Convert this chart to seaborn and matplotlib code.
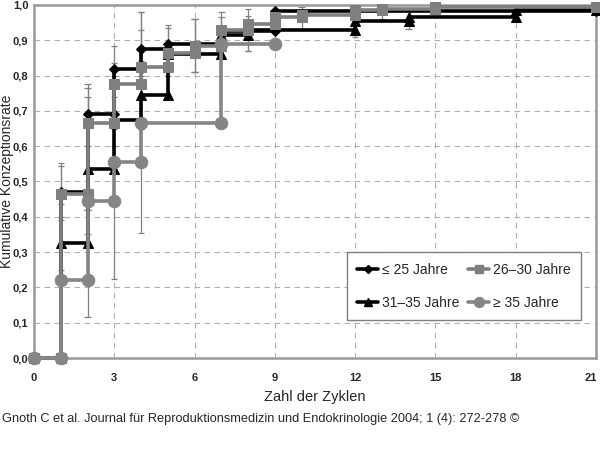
import matplotlib
matplotlib.use("Agg")
import matplotlib.pyplot as plt
import matplotlib.transforms as mtransforms
import seaborn as sns
import pandas as pd
from matplotlib.lines import Line2D

sns.set_style("white")
plt.rcParams['font.family'] = ['Liberation Sans', 'DejaVu Sans']

# ---- data (step curves: start time of each step and value) ----
labels = ["≤ 25 Jahre", "26–30 Jahre", "31–35 Jahre", "≥ 35 Jahre"]

t_le25 = [0, 1, 2, 3, 4, 5, 7, 9]
v_le25 = [0.0, 0.47, 0.69, 0.82, 0.875, 0.89, 0.925, 0.983]
end_le25 = 21

t_26_30 = [0, 1, 2, 3, 4, 5, 6, 7, 8, 9, 10, 12, 13, 15]
v_26_30 = [0.0, 0.465, 0.665, 0.775, 0.825, 0.865, 0.885, 0.93, 0.945, 0.965,
           0.972, 0.985, 0.988, 0.993]
end_26_30 = 21

t_31_35 = [0, 1, 2, 3, 4, 5, 7, 8, 12, 14, 18]
v_31_35 = [0.0, 0.325, 0.535, 0.675, 0.745, 0.86, 0.915, 0.929, 0.955, 0.967, 0.985]
end_31_35 = 21

t_ge35 = [0, 1, 2, 3, 4, 7]
v_ge35 = [0.0, 0.22, 0.445, 0.555, 0.667, 0.89]
end_ge35 = 9

# ---- confidence bars ----
ex_le25 = [1, 2, 3, 4, 6, 8]
lo_le25 = [0.39, 0.60, 0.74, 0.80, 0.81, 0.87]
hi_le25 = [0.552, 0.775, 0.885, 0.98, 0.96, 0.99]

ex_26_30 = [1, 2, 3, 4, 5, 7, 10, 13, 15]
lo_26_30 = [0.435, 0.42, 0.65, 0.65, 0.80, 0.85, 0.93, 0.96, 0.97]
hi_26_30 = [0.545, 0.765, 0.835, 0.93, 0.943, 0.98, 0.995, 0.995, 0.998]

ex_31_35 = [1, 2, 3, 4, 5, 6, 7, 8, 12, 14, 18]
lo_31_35 = [0.25, 0.42, 0.55, 0.65, 0.81, 0.81, 0.85, 0.87, 0.91, 0.932, 0.962]
hi_31_35 = [0.40, 0.74, 0.80, 0.84, 0.935, 0.96, 0.965, 0.97, 0.995, 0.99, 0.995]

ex_ge35 = [2, 3, 4]
lo_ge35 = [0.115, 0.225, 0.355]
hi_ge35 = [0.35, 0.60, 0.98]

x_ticks = [0, 3, 6, 9, 12, 15, 18, 21]
y_ticks = [0.0, 0.1, 0.2, 0.3, 0.4, 0.5, 0.6, 0.7, 0.8, 0.9, 1.0]


def step_frame(t, v, end):
    xs, ys = [t[0]], [v[0]]
    for i in range(1, len(t)):
        xs += [t[i], t[i]]
        ys += [v[i - 1], v[i]]
    xs.append(end)
    ys.append(v[-1])
    return pd.DataFrame({"x": xs, "y": ys})


series = [
    # label, t, v, end, color, marker, msize, ex, lo, hi, zorder
    (labels[2], t_31_35, v_31_35, end_31_35, "#000000", "^", 7, ex_31_35, lo_31_35, hi_31_35, 3),
    (labels[0], t_le25, v_le25, end_le25, "#000000", "D", 5.5, ex_le25, lo_le25, hi_le25, 4),
    (labels[1], t_26_30, v_26_30, end_26_30, "#7f7f7f", "s", 6.5, ex_26_30, lo_26_30, hi_26_30, 5),
    (labels[3], t_ge35, v_ge35, end_ge35, "#858585", "o", 9, ex_ge35, lo_ge35, hi_ge35, 6),
]

fig = plt.figure(figsize=(6.0, 4.65), dpi=100)
ax = fig.add_axes([34 / 600, 1 - 358 / 465, 562 / 600, 353 / 465])

# grid
for xv in x_ticks[1:-1]:
    ax.axvline(xv, color="#b0b0b0", lw=0.8, ls=(0, (5, 4)), zorder=0)
for yv in y_ticks[1:-1]:
    ax.axhline(yv, color="#b0b0b0", lw=0.8, ls=(0, (5, 4)), zorder=0)

# error bars
for lab, t, v, end, col, mk, ms, ex, lo, hi, z in series:
    ax.vlines(ex, lo, hi, color="#808080", lw=0.9, zorder=1)
    ax.hlines(lo, [e - 0.12 for e in ex], [e + 0.12 for e in ex], color="#808080", lw=0.9, zorder=1)
    ax.hlines(hi, [e - 0.12 for e in ex], [e + 0.12 for e in ex], color="#808080", lw=0.9, zorder=1)

handles = {}
for lab, t, v, end, col, mk, ms, ex, lo, hi, z in series:
    df = step_frame(t, v, end)
    sns.lineplot(data=df, x="x", y="y", sort=False, estimator=None, ax=ax,
                 color=col, lw=2.6, marker=mk, markersize=ms,
                 markeredgecolor=col, markerfacecolor=col, zorder=z,
                 legend=False, clip_on=False)
    handles[lab] = Line2D([], [], color=col, lw=2.6, marker=mk, markersize=ms * 0.8,
                          markeredgecolor=col, markerfacecolor=col)

ax.set_xlim(0, 21)
ax.set_ylim(0, 1.0)
ax.set_xticks(x_ticks)
ax.set_yticks(y_ticks)
ax.set_xticklabels([str(x) for x in x_ticks], fontsize=8, fontweight="bold")
ax.set_yticklabels([f"{y:.1f}".replace(".", ",") for y in y_ticks], fontsize=8, fontweight="bold")
ax.tick_params(axis="x", length=0, pad=11)
ax.tick_params(axis="y", length=0, pad=4)
# keep the last x tick label inside the image
last = ax.get_xticklabels()[-1]
last.set_transform(last.get_transform() +
                   mtransforms.ScaledTranslation(-5 / 100, 0, fig.dpi_scale_trans))
for sp in ax.spines.values():
    sp.set_color("#999999")
    sp.set_linewidth(1.8)
ax.set_xlabel("Zahl der Zyklen", fontsize=10.5)
ax.xaxis.set_label_coords((315 - 34) / 562, -(390 - 358) / 353)
ax.set_ylabel("Kumulative Konzeptionsrate", fontsize=10)
ax.yaxis.set_label_coords(-(34 - 14) / 562, (358 - 181) / 353)

# column-major fill -> rows: (≤25, 26–30), (31–35, ≥35)
order = [labels[0], labels[2], labels[1], labels[3]]
leg = ax.legend([handles[l] for l in order], order, ncol=2, loc="lower right",
                bbox_to_anchor=(0.986, 0.088), fontsize=10, frameon=True,
                fancybox=False, edgecolor="#808080", framealpha=1,
                handlelength=1.5, handletextpad=0.3, columnspacing=0.6,
                labelspacing=1.35, borderpad=0.75)
leg.get_frame().set_linewidth(1.0)
leg.set_zorder(10)

fig.text(2 / 600, 1 - 419 / 465,
         "Gnoth C et al. Journal für Reproduktionsmedizin und Endokrinologie 2004; 1 (4): 272-278 ©",
         fontsize=9.2, va="center", ha="left")

fig.savefig("out.png", dpi=100)
